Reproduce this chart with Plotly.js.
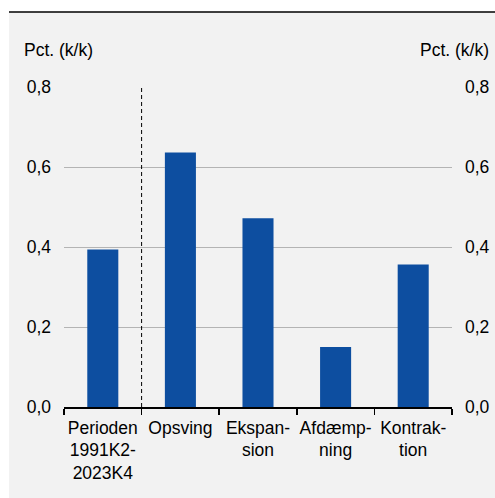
<!DOCTYPE html>
<html>
<head>
<meta charset="utf-8">
<script src="https://cdn.plot.ly/plotly-3.0.1.min.js"></script>
<style>
html,body{margin:0;padding:0;background:#fff;}
#chart{width:495px;height:498px;}
</style>
</head>
<body>
<div id="chart"></div>
<script>
const categories = ["Perioden<br>1991K2-<br>2023K4", "Opsving", "Ekspan-<br>sion", "Afdæmp-<br>ning", "Kontrak-<br>tion"];
const values = [0.394, 0.636, 0.472, 0.150, 0.356];
const yTickVals = [0, 0.2, 0.4, 0.6, 0.8];
const unitLabel = "Pct. (k/k)";

const FONT = "Liberation Sans, Arial, sans-serif";
const BLUE = "#0d4ea0";

const trace = {
  type: "bar",
  x: categories,
  y: values,
  width: 0.4,
  marker: {color: BLUE, line: {width: 0}},
  hoverinfo: "skip"
};

const yCommon = {
  range: [0, 0.8],
  tickvals: yTickVals,
  tickformat: ".1f",
  ticks: "",
  showline: false,
  zeroline: false,
  fixedrange: true,
  tickfont: {family: FONT, size: 17.5, color: "#000"}
};

const layout = {
  width: 495,
  height: 498,
  margin: {l: 64, r: 43, t: 87, b: 91},
  paper_bgcolor: "#ffffff",
  plot_bgcolor: "rgba(0,0,0,0)",
  separators: ",.",
  showlegend: false,
  bargap: 0.6,
  font: {family: FONT, size: 17.5, color: "#000"},
  xaxis: {
    type: "category",
    showline: true,
    linecolor: "#000",
    linewidth: 1.5,
    ticks: "outside",
    tickson: "boundaries",
    ticklen: 6,
    tickwidth: 1.5,
    tickcolor: "#000",
    tickangle: 0,
    ticklabelstandoff: 4,
    automargin: false,
    showgrid: false,
    zeroline: false,
    tickfont: {family: FONT, size: 17.5, color: "#000"},
    fixedrange: true
  },
  yaxis: Object.assign({}, yCommon, {
    side: "left",
    showgrid: true,
    gridcolor: "#b4b4b4",
    gridwidth: 1,
    ticklabelstandoff: 12
  }),
  yaxis2: Object.assign({}, yCommon, {
    side: "right",
    overlaying: "y",
    showgrid: false,
    ticklabelstandoff: 12
  }),
  shapes: [
    {type: "rect", xref: "paper", yref: "paper", x0: -0.1418, x1: 1.2, y0: -0.4, y1: 1.2344,
     fillcolor: "#f2f2f2", line: {width: 0}, layer: "below"},
    {type: "line", xref: "paper", yref: "paper", x0: -0.1418, x1: 1.2, y0: 1.2344, y1: 1.2344,
     line: {color: "#000", width: 1.5}},
    {type: "line", xref: "x", yref: "y", x0: 0.5, x1: 0.5, y0: 0, y1: 0.8,
     line: {color: "#000", width: 1, dash: "4px,3px"}}
  ],
  annotations: [
    {text: unitLabel, xref: "paper", yref: "paper", x: 0, y: 1.1156, xanchor: "left", yanchor: "middle",
     xshift: -42, showarrow: false, font: {family: FONT, size: 17.5, color: "#000"}},
    {text: unitLabel, xref: "paper", yref: "paper", x: 1, y: 1.1156, xanchor: "right", yanchor: "middle",
     xshift: 39, showarrow: false, font: {family: FONT, size: 17.5, color: "#000"}}
  ]
};

const helper = {type: "scatter", x: [categories[0]], y: [0], yaxis: "y2", mode: "markers",
  marker: {opacity: 0}, hoverinfo: "skip", showlegend: false};

Plotly.newPlot("chart", [trace, helper], layout, {displayModeBar: false, staticPlot: true});
</script>
</body>
</html>
